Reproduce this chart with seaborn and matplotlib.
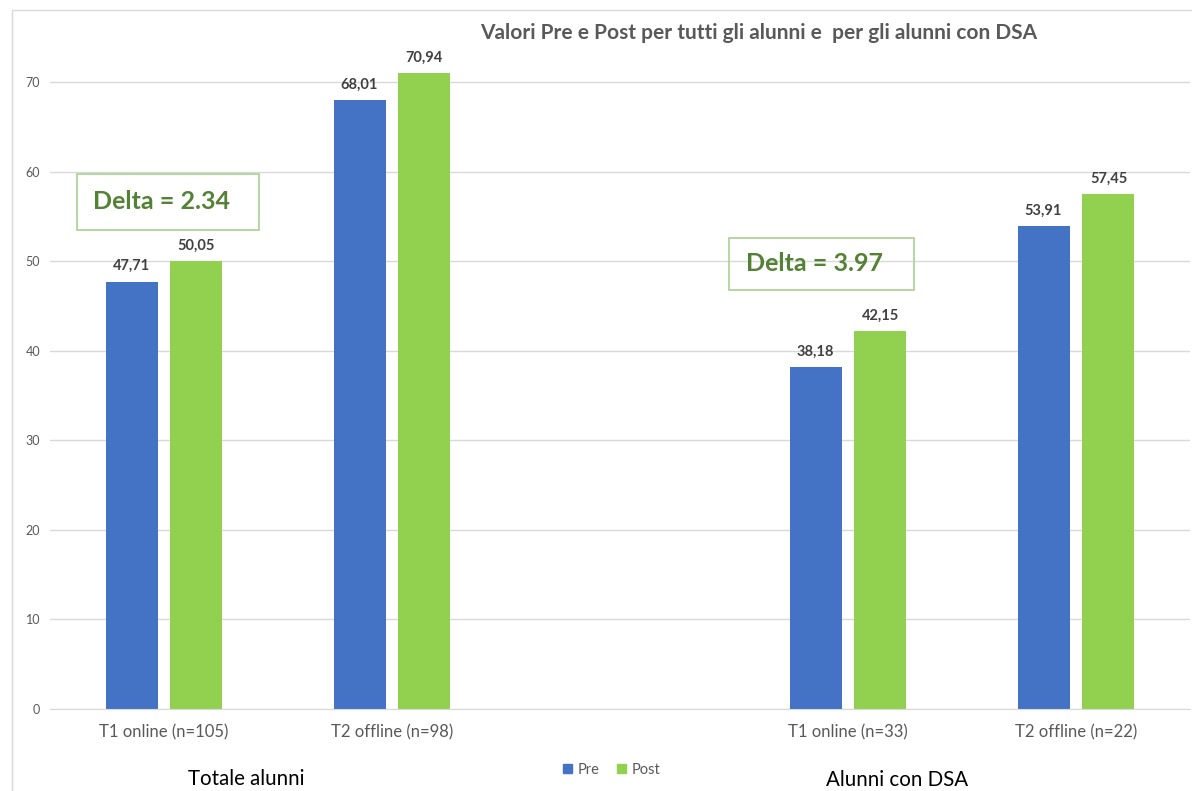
import matplotlib
matplotlib.use("Agg")
import matplotlib.pyplot as plt
import matplotlib.patches as mpatches
import pandas as pd
import seaborn as sns

# --- data ---
categories = [
    "T1 online (n=105)",
    "T2 offline (n=98)",
    "T1 online (n=33)",
    "T2 offline (n=22)",
]
# blank slot separates the two groups
slot_order = [categories[0], categories[1], " ", categories[2], categories[3]]
pre_values = [47.71, 68.01, 38.18, 53.91]
post_values = [50.05, 70.94, 42.15, 57.45]
series = ["Pre", "Post"]
colors = {"Pre": "#4472C4", "Post": "#92D050"}
y_ticks = [0, 10, 20, 30, 40, 50, 60, 70]
group_labels = ["Totale alunni", "Alunni con DSA"]
delta_labels = ["Delta = 2.34", "Delta = 3.97"]
title = "Valori Pre e Post per tutti gli alunni e  per gli alunni con DSA"

df = pd.DataFrame(
    {
        "category": categories * 2,
        "serie": ["Pre"] * len(categories) + ["Post"] * len(categories),
        "value": pre_values + post_values,
    }
)

sns.set_style("white")
plt.rcParams["font.family"] = ["Lato", "DejaVu Sans"]

fig = plt.figure(figsize=(11.92, 7.91), dpi=100)
ax = fig.add_axes([50 / 1192, 1 - 709 / 791, 1140 / 1192, (709 - 64) / 791])

sns.barplot(
    data=df,
    x="category",
    y="value",
    hue="serie",
    order=slot_order,
    hue_order=series,
    palette=colors,
    width=0.57,
    gap=0.2,
    saturation=1,
    linewidth=0,
    legend=False,
    ax=ax,
)

for cont in ax.containers:
    ax.bar_label(
        cont,
        fmt=lambda v: f"{v:.2f}".replace(".", ","),
        padding=6,
        fontsize=10.5,
        fontweight="bold",
        color="#404040",
    )

ax.set_ylim(0, 72)
ax.set_xlim(-0.5, 4.5)
ax.set_yticks(y_ticks)
ax.yaxis.grid(True, color="#d9d9d9", linewidth=1)
ax.set_axisbelow(True)
for side in ["top", "right", "left"]:
    ax.spines[side].set_visible(False)
ax.spines["bottom"].set_color("#d9d9d9")
ax.tick_params(axis="y", length=0, labelsize=9, labelcolor="#595959", pad=7)
ax.tick_params(axis="x", length=0, labelsize=12, labelcolor="#595959", pad=11)
ax.set_xlabel("")
ax.set_ylabel("")

# chart title
fig.text(759 / 1192, 1 - 33 / 791, title, ha="center", va="center",
         fontsize=15, fontweight="bold", color="#595959")

# group captions under the axis
fig.text(246 / 1192, 1 - 785 / 791, group_labels[0], ha="center", va="baseline",
         fontsize=14.8, color="#000000")
fig.text(897 / 1192, 1 - 786 / 791, group_labels[1], ha="center", va="baseline",
         fontsize=14.8, color="#000000")

# delta boxes (x in category units, y in data units)
boxes = [(-0.382, 53.5, 0.80, 6.2), (2.48, 46.8, 0.81, 5.8)]
for (bx, by, bw, bh), txt in zip(boxes, delta_labels):
    ax.add_patch(mpatches.Rectangle((bx, by), bw, bh, fill=False,
                                    edgecolor="#a9d18e", linewidth=1.2,
                                    clip_on=False))
    ax.text(bx + bw / 2 - 0.03, by + bh / 2, txt, ha="center", va="center",
            fontsize=18, fontweight="bold", color="#548235")

# legend
handles = [mpatches.Patch(color=colors[s], label=s) for s in series]
fig.legend(handles=handles, loc="center", bbox_to_anchor=(612 / 1192, 1 - 770 / 791),
           ncol=2, frameon=False, fontsize=10.5, handlelength=0.6, handleheight=0.6,
           handletextpad=0.4, columnspacing=1.2, labelcolor="#595959")

# outer chart frame
fig.add_artist(mpatches.Rectangle((12 / 1192, -0.01), 1.1, 1 - 10 / 791 + 0.01,
                                  transform=fig.transFigure, fill=False,
                                  edgecolor="#d9d9d9", linewidth=1))

fig.savefig("out.png", dpi=100)
